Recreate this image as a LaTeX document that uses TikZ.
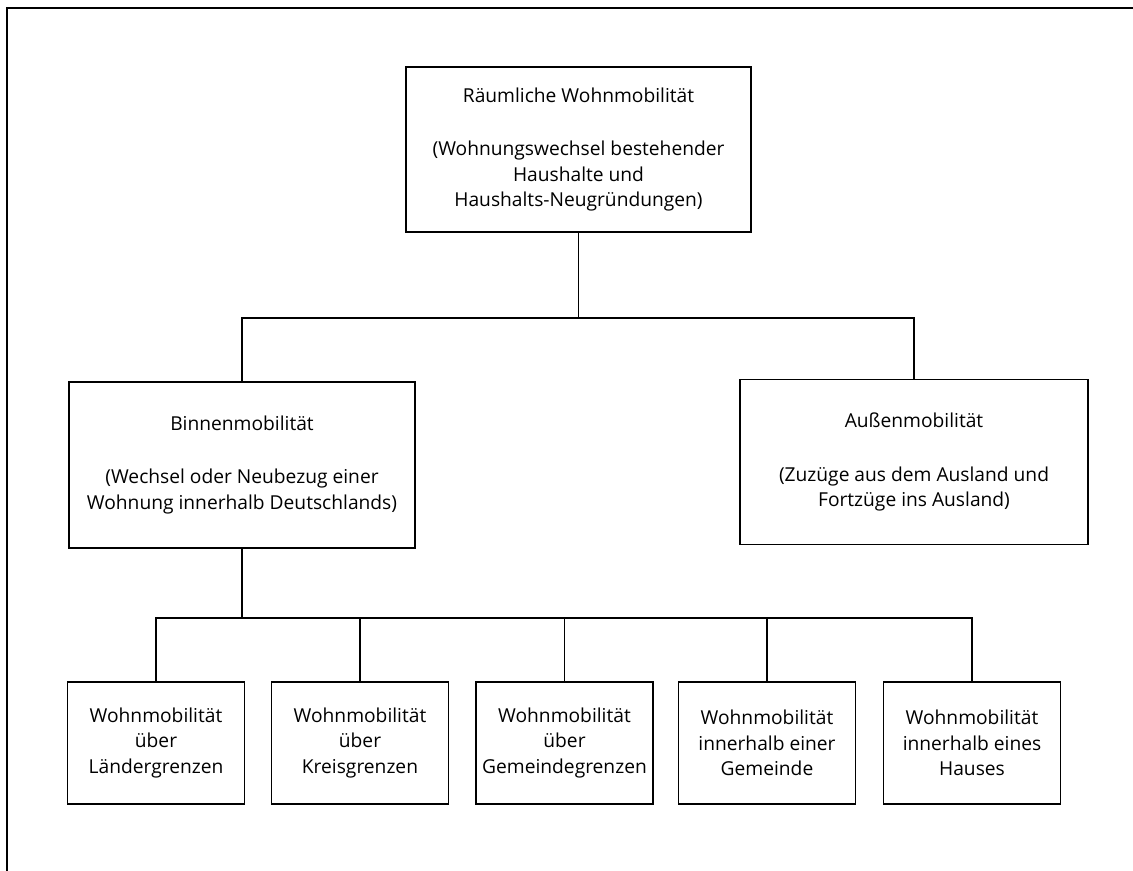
\documentclass[tikz,border=0pt]{standalone}
\usepackage{fontspec}
\setmainfont{Open Sans}
\usetikzlibrary{calc}

\tikzset{
  mobbox/.style={draw, line width=1.4pt, align=center, inner sep=0pt,
    font=\fontsize{14.4}{19}\selectfont},
  linkline/.style={line width=1.4pt},
}

\begin{document}
\begin{tikzpicture}[x=0.75pt,y=0.75pt,yscale=-1,xscale=1]
%set diagram to the size of the page
\useasboundingbox (0,0) rectangle (1133,871);

%Shape: Frame
\draw [linkline] (7,871) -- (7,8) -- (1133,8);

%Shape: Rectangle [id:top]
\node [mobbox, minimum width=345*0.75pt, minimum height=165*0.75pt] (raeumlich) at (578.5,149.5)
  {R\"aumliche Wohnmobilit\"at\\[21pt](Wohnungswechsel bestehender\\Haushalte und\\Haushalts-Neugr\"undungen)};
%Shape: Rectangle [id:binnen]
\node [mobbox, minimum width=346*0.75pt, minimum height=166*0.75pt] (binnen) at (242,465)
  {Binnenmobilit\"at\\[21pt](Wechsel oder Neubezug einer\\Wohnung innerhalb Deutschlands)};
%Shape: Rectangle [id:aussen]
\node [mobbox, minimum width=348*0.75pt, minimum height=165*0.75pt] (aussen) at (914,462)
  {Au\ss enmobilit\"at\\[21pt](Zuz\"uge aus dem Ausland und\\Fortz\"uge ins Ausland)};

%Shape: Rectangle [id:laender] ... [id:haus]
\foreach \name/\xc/\txt in {
    laender/156/{Wohnmobilit\"at\\\"uber\\L\"andergrenzen},
    kreis/360/{Wohnmobilit\"at\\\"uber\\Kreisgrenzen},
    gemgrenz/564.5/{Wohnmobilit\"at\\\"uber\\Gemeindegrenzen},
    gemeinde/767/{Wohnmobilit\"at\\innerhalb einer\\Gemeinde},
    haus/972/{Wohnmobilit\"at\\innerhalb eines\\Hauses}}
  \node [mobbox, minimum width=177*0.75pt, minimum height=122*0.75pt] (\name) at (\xc,743) {\txt};

% Connectors
\coordinate (split1) at ($(raeumlich.south)+(0,85)$);
\draw [linkline] (raeumlich.south) -- (split1);
\draw [linkline] (binnen.north) |- (split1) -| (aussen.north);

\coordinate (split2) at ($(binnen.south)+(0,69)$);
\draw [linkline] (binnen.south) -- (split2);
\foreach \name in {laender,kreis,gemgrenz,gemeinde,haus}
  \draw [linkline] (split2) -| (\name.north);

\end{tikzpicture}
\end{document}
